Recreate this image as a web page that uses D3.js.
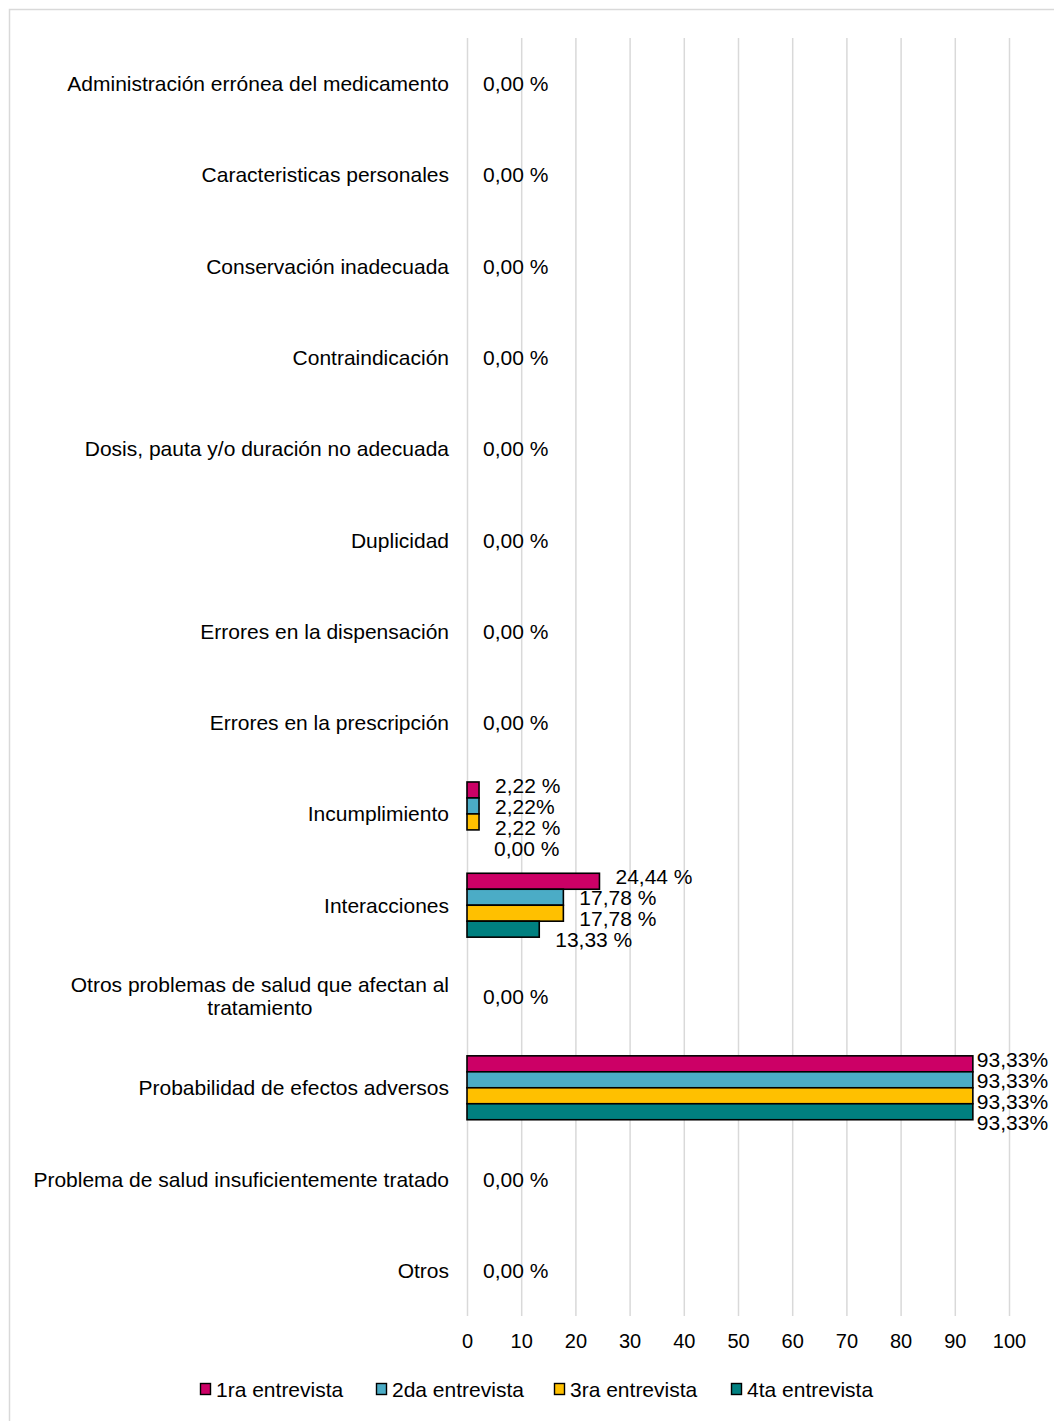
<!DOCTYPE html>
<html lang="es">
<head>
<meta charset="utf-8">
<script src="https://cdn.jsdelivr.net/npm/d3@7"></script>
<style>
  html, body { margin: 0; padding: 0; background: #fff; }
  svg { display: block; font-family: "Liberation Sans", Arial, sans-serif; }
</style>
</head>
<body>
<svg id="chart" width="1054" height="1421"></svg>
<script>
// Problemas relacionados con medicamentos, % por entrevista
const categories = [
  "Administración errónea del medicamento",
  "Caracteristicas personales",
  "Conservación inadecuada",
  "Contraindicación",
  "Dosis, pauta y/o duración no adecuada",
  "Duplicidad",
  "Errores en la dispensación",
  "Errores en la prescripción",
  "Incumplimiento",
  "Interacciones",
  "Otros problemas de salud que afectan al tratamiento",
  "Probabilidad de efectos adversos",
  "Problema de salud insuficientemente tratado",
  "Otros"
];
const seriesNames = ["1ra entrevista", "2da entrevista", "3ra entrevista", "4ta entrevista"];
const seriesColors = ["#CC0066", "#4BACC6", "#FFC000", "#008080"];
const entrevista1 = [0, 0, 0, 0, 0, 0, 0, 0, 2.22, 24.44, 0, 93.33, 0, 0];
const entrevista2 = [0, 0, 0, 0, 0, 0, 0, 0, 2.22, 17.78, 0, 93.33, 0, 0];
const entrevista3 = [0, 0, 0, 0, 0, 0, 0, 0, 2.22, 17.78, 0, 93.33, 0, 0];
const entrevista4 = [0, 0, 0, 0, 0, 0, 0, 0, 0, 13.33, 0, 93.33, 0, 0];
const xTicks = [0, 10, 20, 30, 40, 50, 60, 70, 80, 90, 100];
// labels written without the space before "%"
const compactLabels = [["Incumplimiento", 1], ["Probabilidad de efectos adversos", 0],
  ["Probabilidad de efectos adversos", 1], ["Probabilidad de efectos adversos", 2],
  ["Probabilidad de efectos adversos", 3]];

const allSeries = [entrevista1, entrevista2, entrevista3, entrevista4];
const svg = d3.select("#chart");
const fontSize = 21;
const tickFontSize = 20;

// outer frame
svg.append("rect")
  .attr("x", 9.5).attr("y", 9.5)
  .attr("width", 1070).attr("height", 1430)
  .attr("fill", "none").attr("stroke", "#d9d9d9").attr("stroke-width", 1.5);

const x = d3.scaleLinear().domain([0, 100]).range([467, 1009]);
const y = d3.scaleBand().domain(categories).range([38, 1316])
  .paddingInner(0.3).paddingOuter(0.15);
const ySub = d3.scaleBand().domain(d3.range(4)).range([0, y.bandwidth()]);

// vertical gridlines
svg.append("g").selectAll("line").data(xTicks).join("line")
  .attr("x1", d => x(d) + 0.5).attr("x2", d => x(d) + 0.5)
  .attr("y1", 38).attr("y2", 1316)
  .attr("stroke", "#d9d9d9").attr("stroke-width", 1.5);

// x tick labels
const xAxis = d3.axisBottom(x).tickValues(xTicks).tickSize(0).tickPadding(0);
const gx = svg.append("g").attr("transform", "translate(0,1334)").call(xAxis);
gx.select(".domain").remove();
gx.selectAll("text")
  .attr("font-size", tickFontSize).attr("font-family", "Liberation Sans, Arial, sans-serif")
  .attr("fill", "#000").attr("dy", "0.71em");

// category labels
const catG = svg.append("g");
categories.forEach(c => {
  const cy = y(c) + y.bandwidth() / 2;
  if (c === "Otros problemas de salud que afectan al tratamiento") {
    const t = catG.append("text").attr("font-size", fontSize).attr("fill", "#000")
      .attr("text-anchor", "middle");
    const lines = ["Otros problemas de salud que afectan al", "tratamiento"];
    // measure first line to right-align the centered block
    const probe = catG.append("text").attr("font-size", fontSize).text(lines[0]);
    const w = probe.node().getComputedTextLength();
    probe.remove();
    const cx = 449 - w / 2;
    lines.forEach((ln, i) => {
      t.append("tspan").attr("x", cx).attr("y", cy - 12 + i * 23)
        .attr("dominant-baseline", "central").text(ln);
    });
  } else {
    catG.append("text").attr("x", 449).attr("y", cy)
      .attr("text-anchor", "end").attr("dominant-baseline", "central")
      .attr("font-size", fontSize).attr("fill", "#000").text(c);
  }
});

// bars
const barG = svg.append("g");
allSeries.forEach((vals, si) => {
  barG.append("g").selectAll("rect")
    .data(categories.map((c, i) => ({ c, v: vals[i] })).filter(d => d.v > 0))
    .join("rect")
    .attr("x", x(0))
    .attr("y", d => y(d.c) + ySub(si))
    .attr("width", d => x(d.v) - x(0))
    .attr("height", ySub.bandwidth())
    .attr("fill", seriesColors[si])
    .attr("stroke", "#000").attr("stroke-width", 1.6);
});

// value labels
const fmt = (v, compact) => v.toFixed(2).replace(".", ",") + (compact ? "%" : " %");
const isCompact = (c, si) => compactLabels.some(p => p[0] === c && p[1] === si);
const lblG = svg.append("g");
categories.forEach((c, i) => {
  const vals = allSeries.map(s => s[i]);
  const cy = y(c) + y.bandwidth() / 2;
  if (vals.every(v => v === 0)) {
    lblG.append("text").attr("x", x(0) + 16).attr("y", cy)
      .attr("dominant-baseline", "central").attr("font-size", fontSize)
      .attr("fill", "#000").text(fmt(0, false));
  } else {
    vals.forEach((v, si) => {
      const off = v > 90 ? 4 : (v === 0 ? 27 : 16);
      lblG.append("text")
        .attr("x", x(v) + off)
        .attr("y", cy + (si - 1.5) * 21 + 3)
        .attr("dominant-baseline", "central").attr("font-size", fontSize)
        .attr("fill", "#000").text(fmt(v, isCompact(c, si)));
    });
  }
});

// legend
const legend = svg.append("g");
const legendX = [200, 376, 554, 731];
seriesNames.forEach((n, si) => {
  const g = legend.append("g").attr("transform", `translate(${legendX[si]},1389)`);
  g.append("rect").attr("x", 0.5).attr("y", -5.5).attr("width", 10).attr("height", 11)
    .attr("fill", seriesColors[si]).attr("stroke", "#000").attr("stroke-width", 1.4);
  g.append("text").attr("x", 16).attr("y", 0).attr("dominant-baseline", "central")
    .attr("font-size", fontSize).attr("fill", "#000").text(n);
});
</script>
</body>
</html>
